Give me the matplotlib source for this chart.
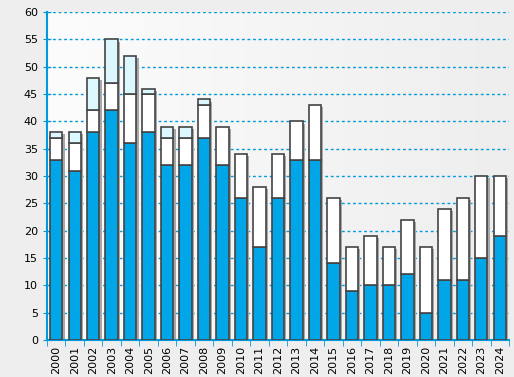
import numpy as np
import matplotlib.pyplot as plt

# Data
years = [str(y) for y in range(2000, 2025)]
blue = [33, 31, 38, 42, 36, 38, 32, 32, 37, 32, 26, 17, 26, 33, 33,
        14, 9, 10, 10, 12, 5, 11, 11, 15, 19]
white = [4, 5, 4, 5, 9, 7, 5, 5, 6, 7, 8, 11, 8, 7, 10,
         12, 8, 9, 7, 10, 12, 13, 15, 15, 11]
cyan = [1, 2, 6, 8, 7, 1, 2, 2, 1, 0, 0, 0, 0, 0, 0,
        0, 0, 0, 0, 0, 0, 0, 0, 0, 0]

blue = np.array(blue)
white = np.array(white)
cyan = np.array(cyan)
total = blue + white + cyan

fig = plt.figure(figsize=(5.14, 3.77), dpi=100, facecolor="#eeeeee")
ax = fig.add_axes([47 / 514, 37 / 377, 462 / 514, 328 / 377])

# soft gradient background
grad = np.linspace(1.0, 0.0, 256).reshape(1, -1)
ax.imshow(grad, extent=[0, 1, 0, 1], transform=ax.transAxes, aspect="auto",
          cmap=plt.matplotlib.colors.LinearSegmentedColormap.from_list("bg", ["#eeeeee", "#fcfcfc"]),
          zorder=0)

x = np.arange(len(years))
w = 0.67
edge = "#444444"

# drop shadow
ax.bar(x + 0.12, total, w, bottom=-0.4, color="#a8a8a8", zorder=2)

ax.bar(x, blue, w, color="#00a6e8", edgecolor=edge, linewidth=1.2, zorder=3)
ax.bar(x, white, w, bottom=blue, color="white", edgecolor=edge, linewidth=1.2, zorder=3)
mask = cyan > 0
ax.bar(x[mask], cyan[mask], w, bottom=(blue + white)[mask], color="#dcf8fe",
       edgecolor=edge, linewidth=1.2, zorder=3)

ax.set_xlim(-0.5, len(years) - 0.5)
ax.set_ylim(0, 60)
ax.set_yticks(range(0, 61, 5))
ax.yaxis.grid(True, color="#0099dd", linestyle=(0, (2, 2)), linewidth=1)
ax.set_axisbelow(True)

ax.set_xticks(x)
ax.set_xticklabels(years, rotation=90, fontsize=8)
ax.set_xticks(np.arange(-0.5, len(years), 1), minor=True)
ax.tick_params(axis="x", which="major", length=0, pad=4)
ax.tick_params(axis="x", which="minor", length=4, color="#0099dd", direction="out")
ax.tick_params(axis="y", labelsize=8, length=6, color="#0099dd", direction="inout")

for s in ["top", "right"]:
    ax.spines[s].set_visible(False)
for s in ["left", "bottom"]:
    ax.spines[s].set_color("#0099dd")
    ax.spines[s].set_linewidth(1.5)

fig.savefig("out.png", dpi=100, facecolor=fig.get_facecolor())
